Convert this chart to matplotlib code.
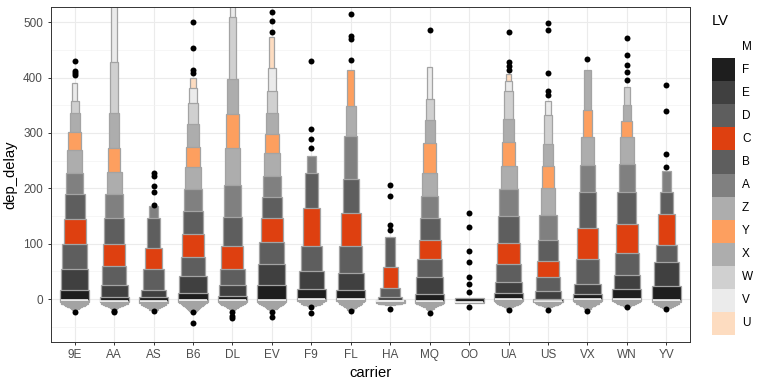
import matplotlib
matplotlib.use("Agg")
import matplotlib.pyplot as plt

plt.rcParams['font.family'] = ['Liberation Sans', 'DejaVu Sans']

carriers = ["9E", "AA", "AS", "B6", "DL", "EV", "F9", "FL",
            "HA", "MQ", "OO", "UA", "US", "VX", "WN", "YV"]

medians = [-2, -3, -3, -1, -2, -1, 0.5, 1, -4, -3, -5, 0, -4, 0, 1, -2]

upper_lv = {
    "9E": [16, 55, 99, 144, 189, 228, 269, 302, 336, 358, 390],
    "AA": [4, 25, 60, 100, 146, 189, 230, 272, 336, 429, 600],
    "AS": [4, 16, 55, 92, 146, 168],
    "B6": [11, 41, 76, 117, 159, 199, 238, 275, 316, 355, 382, 399],
    "DL": [5, 25, 55, 96, 149, 206, 273, 334, 398, 510, 620],
    "EV": [25, 64, 104, 146, 185, 222, 263, 298, 336, 375, 417, 473],
    "F9": [19, 51, 96, 164, 227, 258],
    "FL": [17, 48, 96, 156, 217, 295, 349, 414],
    "HA": [-1, 4, 20, 58, 113],
    "MQ": [9, 39, 73, 107, 146, 186, 227, 281, 323, 361, 420],
    "OO": [2],
    "UA": [11, 31, 63, 102, 150, 198, 241, 284, 325, 375, 394, 407],
    "US": [1, 14, 40, 69, 107, 152, 200, 241, 280, 333, 357],
    "VX": [10, 27, 72, 129, 193, 243, 292, 342, 414],
    "WN": [18, 43, 83, 135, 193, 244, 292, 322, 351, 383],
    "YV": [23, 67, 98, 153, 194, 232],
}

lower_lv = {
    "9E": [-6, -8, -9, -11, -12, -13, -14, -15, -16, -18, -20],
    "AA": [-6, -8, -9, -10, -11, -12, -13, -14, -15, -16, -17],
    "AS": [-7, -10, -12, -14, -16, -19],
    "B6": [-5, -7, -9, -10, -12, -13, -15, -16, -18, -19, -21, -23],
    "DL": [-5, -7, -8, -10, -11, -12, -13, -15, -16, -17, -19],
    "EV": [-5, -7, -8, -10, -11, -12, -13, -15, -16, -17, -18, -20],
    "F9": [-4, -6, -8, -10, -11, -13],
    "FL": [-4, -6, -8, -10, -12, -14, -16, -19],
    "HA": [-7, -8, -9, -9.5, -10],
    "MQ": [-7, -8, -9, -10, -11, -12, -13, -14, -15, -17, -20],
    "OO": [-7],
    "UA": [-4, -6, -7, -8, -9, -10, -11, -12, -13, -14, -15, -17],
    "US": [-6, -7, -8, -9, -10, -10.5, -11, -12, -13, -14, -15],
    "VX": [-4, -6, -8, -9, -10, -12, -13, -15, -17],
    "WN": [-4, -5, -6, -7, -8, -9, -10, -11, -12, -14],
    "YV": [-6, -8, -10, -12, -14, -16],
}

outliers = {
    "9E": [430, 412, 409, 405, -24],
    "AA": [-22, -24],
    "AS": [170, 193, 205, 223, 227, -21],
    "B6": [409, 414, 453, 501, -24, -43],
    "DL": [-24, -30, -35],
    "EV": [483, 503, 519, -24, -32],
    "F9": [272, 290, 308, 430, -15, -26],
    "FL": [432, 469, 475, 514, -22],
    "HA": [125, 134, 186, 206, -17],
    "MQ": [486, -26],
    "OO": [155, 131, 86, 67, 40, 27, 13, -14],
    "UA": [414, 421, 429, 483, -20],
    "US": [369, 375, 409, 486, 499, -20],
    "VX": [433, -21],
    "WN": [395, 411, 423, 440, 471, -14],
    "YV": [238, 262, 340, 387, -17],
}

lv_letters = ["M", "F", "E", "D", "C", "B", "A", "Z", "Y", "X", "W", "V", "U"]
lv_colors = ["#FFFFFF", "#1E1E1E", "#404040", "#5E5E5E", "#DE4010", "#5E5E5E",
             "#808080", "#ADADAD", "#FD9F5F", "#ADADAD", "#D0D0D0", "#EBEBEB", "#FDDCC0"]

y_ticks = [0, 100, 200, 300, 400, 500]

W, H = 768, 384
fig = plt.figure(figsize=(W / 100, H / 100), dpi=100)
L, R, T, B = 51, 690, 7, 342
ax = fig.add_axes([L / W, 1 - B / H, (R - L) / W, (B - T) / H])

edge = "#A3A3A3"
for i, c in enumerate(carriers):
    ups = upper_lv[c]
    los = lower_lv[c]
    med = medians[i]
    k = len(ups)
    w1 = 0.74
    wk = 1.9 / (k + 2.6)
    widths = [w1 if k == 1 else w1 - (w1 - wk) * j / (k - 1) for j in range(k)]
    for j in reversed(range(k)):
        # lower half (compressed tail): shows as grey funnel
        ax.bar(i, med - los[j], bottom=los[j], width=widths[j],
               color=edge, edgecolor=edge, linewidth=0.9, zorder=3)
        # upper half in the letter-value colour
        lo_u = med if k > 1 or True else los[j]
        ax.bar(i, ups[j] - lo_u, bottom=lo_u, width=widths[j],
               color=lv_colors[j + 1], edgecolor=edge, linewidth=0.9, zorder=3)
    ax.hlines(med, i - widths[0] / 2 + 0.02, i + widths[0] / 2 - 0.02,
              color="white", linewidth=1.1, zorder=4)
    ax.plot([i] * len(outliers[c]), outliers[c], "o", color="black",
            markersize=4.3, markeredgewidth=0, zorder=5)

ax.set_xlim(-0.6, len(carriers) - 0.4)
ax.set_ylim(-77.5, 527.5)
ax.set_xticks(range(len(carriers)))
ax.set_xticklabels(carriers)
ax.set_yticks(y_ticks)
ax.set_yticks([-50, 50, 150, 250, 350, 450], minor=True)
ax.grid(True, which="major", color="#EBEBEB", linewidth=0.8, zorder=0)
ax.grid(True, which="minor", axis="y", color="#F2F2F2", linewidth=0.45, zorder=0)
ax.set_axisbelow(True)
ax.tick_params(axis="both", which="major", length=2.4, width=0.7, color="#333333",
               labelsize=8.5, labelcolor="#4D4D4D")
ax.tick_params(axis="y", pad=3.4)
ax.tick_params(axis="x", pad=2.9)
ax.tick_params(which="minor", length=0)
for s in ax.spines.values():
    s.set_color("#333333")
    s.set_linewidth(0.7)
    s.set_zorder(6)
ax.set_xlabel("carrier", fontsize=10.6, color="black", labelpad=3)
ax.set_ylabel("dep_delay", fontsize=10.6, color="black", labelpad=4)

# legend
kx0, kx1 = 712, 735
ky0 = 35.2
kh = 23.06
lax = fig.add_axes([kx0 / W, 1 - (ky0 + kh * len(lv_letters)) / H,
                    (kx1 - kx0) / W, kh * len(lv_letters) / H])
lax.set_xlim(0, 1)
lax.set_ylim(len(lv_letters), 0)
lax.axis("off")
for j, (lt, col) in enumerate(zip(lv_letters, lv_colors)):
    lax.bar(0.5, 1, bottom=j, width=1, color=col, linewidth=0)
    fig.text(742 / W, 1 - (ky0 + kh * (j + 0.5)) / H, lt, fontsize=8.5,
             color="black", va="center", ha="left")
fig.text(712 / W, 1 - 21 / H, "LV", fontsize=10.6, color="black",
         va="center", ha="left")

fig.savefig("out.png", dpi=100, facecolor="white")
